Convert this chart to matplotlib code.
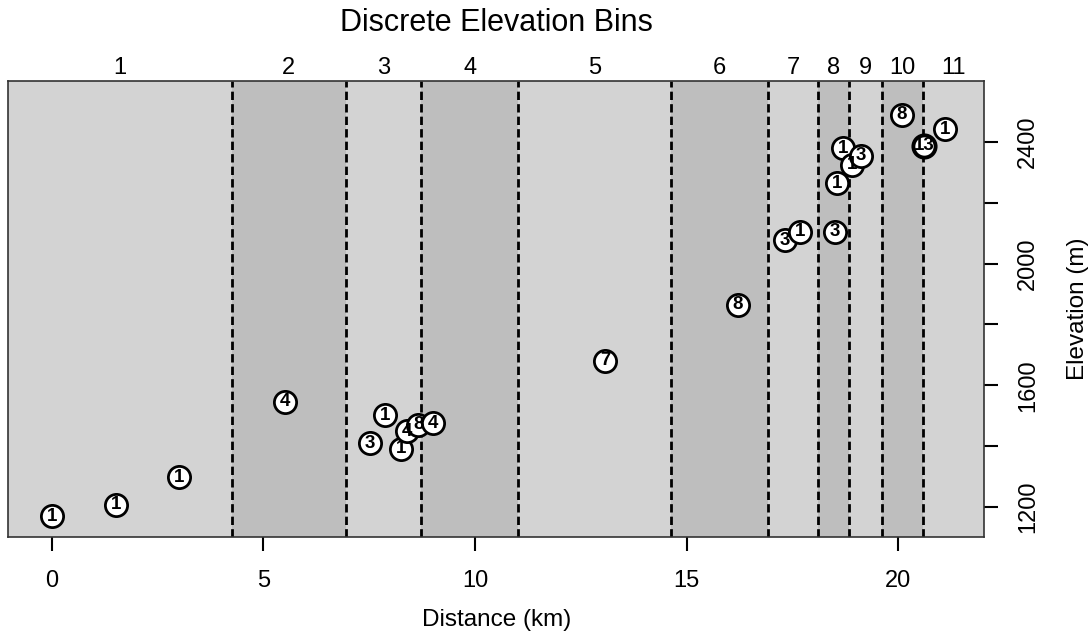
import matplotlib
matplotlib.use("Agg")
from matplotlib import pyplot as plt
import matplotlib.transforms as mtransforms

plt.rcParams['font.family'] = ['Liberation Sans', 'DejaVu Sans']

# points: distance (km), elevation (m), count label
dist = [0.00, 1.52, 3.01, 5.51, 7.52, 7.87, 8.24, 8.40, 8.66, 9.01, 13.07,
        16.21, 17.32, 17.68, 18.50, 18.54, 18.69, 18.90, 19.12, 20.08, 20.61, 21.09]
elev = [1170, 1207, 1298, 1545, 1409, 1502, 1391, 1448, 1470, 1475, 1680,
        1864, 2076, 2105, 2105, 2264, 2379, 2324, 2354, 2489, 2387, 2442]
counts = ["1", "1", "1", "4", "3", "1", "1", "4", "8", "4", "7",
          "8", "3", "1", "3", "1", "1", "1", "3", "8", "13", "1"]

# bin boundaries (km) between the 11 elevation bins
breaks = [4.25, 6.95, 8.72, 11.02, 14.62, 16.93, 18.11, 18.82, 19.61, 20.57]
bin_names = [str(i) for i in range(1, 12)]

xlim = (-1.025, 22.02)
ylim = (1102, 2601)
xticks = [0, 5, 10, 15, 20]
yticks = [1200, 1400, 1600, 1800, 2000, 2200, 2400]
ylabels = ["1200", "", "1600", "", "2000", "", "2400"]

light = "#D3D3D3"
dark = "#BEBEBE"

W, H = 1089, 643
fig = plt.figure(figsize=(W / 100, H / 100), dpi=100)
left, right, top, bottom = 8.3, 984, 80.7, 536.7
ax = fig.add_axes([left / W, 1 - bottom / H, (right - left) / W, (bottom - top) / H])
ax.set_xlim(*xlim)
ax.set_ylim(*ylim)

edges = [xlim[0]] + breaks + [xlim[1]]
for i in range(len(edges) - 1):
    ax.axvspan(edges[i], edges[i + 1], color=light if i % 2 == 0 else dark, lw=0, zorder=0)

for b in breaks:
    ax.axvline(b, color="black", lw=2, dashes=(3.0, 1.5), zorder=1)

trans = mtransforms.blended_transform_factory(ax.transData, ax.transAxes)
for i, name in enumerate(bin_names):
    c = (edges[i] + edges[i + 1]) / 2
    ax.annotate(name, xy=(c, 1.0), xycoords=trans, xytext=(0, 9.5),
                textcoords="offset points", ha="center", va="center", fontsize=17)

for x, y, lab in zip(dist, elev, counts):
    ax.plot(x, y, "o", ms=16, mfc="white", mec="black",
            mew=2.8 if lab == "13" else 2.0, zorder=3)
    ax.text(x, y, lab, ha="center", va="center", fontsize=13.5,
            fontweight="bold", zorder=4)

ax.set_xticks(xticks)
ax.set_xticklabels([str(t) for t in xticks])
ax.yaxis.tick_right()
ax.yaxis.set_label_position("right")
ax.set_yticks(yticks)
ax.set_yticklabels(ylabels, rotation=90, va="center")
ax.tick_params(axis="x", length=10, width=1.5, pad=14, labelsize=17)
ax.tick_params(axis="y", length=10, width=1.5, pad=14, labelsize=17)

for s in ax.spines.values():
    s.set_color("#333333")
    s.set_linewidth(1.2)

ax.set_xlabel("Distance (km)", fontsize=17.5, labelpad=12)
ax.set_ylabel("Elevation (m)", fontsize=17.5, labelpad=20)

fig.text(496 / W, 1 - 23 / H, "Discrete Elevation Bins", ha="center", va="center", fontsize=22)

fig.savefig("out.png", dpi=100)
